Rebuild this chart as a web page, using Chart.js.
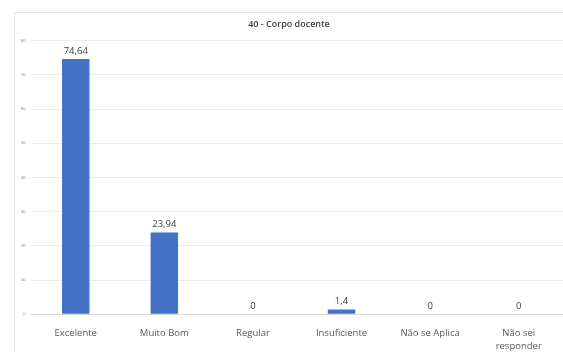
<!DOCTYPE html>
<html>
<head>
<meta charset="utf-8">
<script src="https://cdn.jsdelivr.net/npm/chart.js@4/dist/chart.umd.min.js"></script>
<style>
  html, body { margin: 0; padding: 0; background: #fff; overflow: hidden; }
  #box { position: absolute; left: 14px; top: 12px; width: 549px; height: 340px;
         border: 1px solid #e4e4e4; border-right: none; border-bottom: none; box-sizing: border-box; }
  #wrap { position: absolute; left: 0; top: 0; width: 548px; height: 348px; }
</style>
</head>
<body>
<div id="box"><div id="wrap"><canvas id="c"></canvas></div></div>
<script>
const title = '40 - Corpo docente';
const categories = ['Excelente', 'Muito Bom', 'Regular', 'Insuficiente', 'Não se Aplica', ['Não sei', 'responder']];
const values = [74.64, 23.94, 0, 1.4, 0, 0];
const yTicks = [0, 10, 20, 30, 40, 50, 60, 70, 80];

const fmt = (v) => String(v).replace('.', ',');

// draws the value above each bar, like the spreadsheet data labels
const valueLabels = {
  id: 'valueLabels',
  afterDatasetsDraw(chart) {
    const { ctx } = chart;
    const meta = chart.getDatasetMeta(0);
    ctx.save();
    ctx.font = '9.5px "Open Sans", sans-serif';
    ctx.fillStyle = '#404040';
    ctx.textAlign = 'center';
    ctx.textBaseline = 'bottom';
    meta.data.forEach((bar, i) => {
      ctx.fillText(fmt(values[i]), bar.x, bar.y - 3);
    });
    ctx.restore();
  }
};

new Chart(document.getElementById('c'), {
  type: 'bar',
  data: {
    labels: categories,
    datasets: [{ data: values, backgroundColor: '#4472c4', barPercentage: 0.31, categoryPercentage: 1 }]
  },
  options: {
    responsive: true,
    maintainAspectRatio: false,
    animation: false,
    layout: { padding: { left: 0, right: 0, top: 0, bottom: 4 } },
    plugins: {
      legend: { display: false },
      tooltip: { enabled: false },
      title: {
        display: true, text: title, color: '#404040',
        font: { size: 9, weight: '600', family: '"Open Sans", sans-serif' },
        padding: { top: 6, bottom: 11 }
      }
    },
    scales: {
      x: {
        grid: { display: false },
        border: { color: '#d9d9d9' },
        ticks: { color: '#595959', font: { size: 9.5, family: '"Open Sans", sans-serif', lineHeight: 1.3 }, maxRotation: 0, padding: 5 }
      },
      y: {
        min: yTicks[0], max: yTicks[yTicks.length - 1],
        afterBuildTicks: (axis) => { axis.ticks = yTicks.map((v) => ({ value: v })); },
        grid: { color: '#ececec', drawTicks: false },
        border: { display: false },
        ticks: { color: '#808080', font: { size: 4 }, padding: 6 }
      }
    }
  },
  plugins: [valueLabels]
});
</script>
</body>
</html>
